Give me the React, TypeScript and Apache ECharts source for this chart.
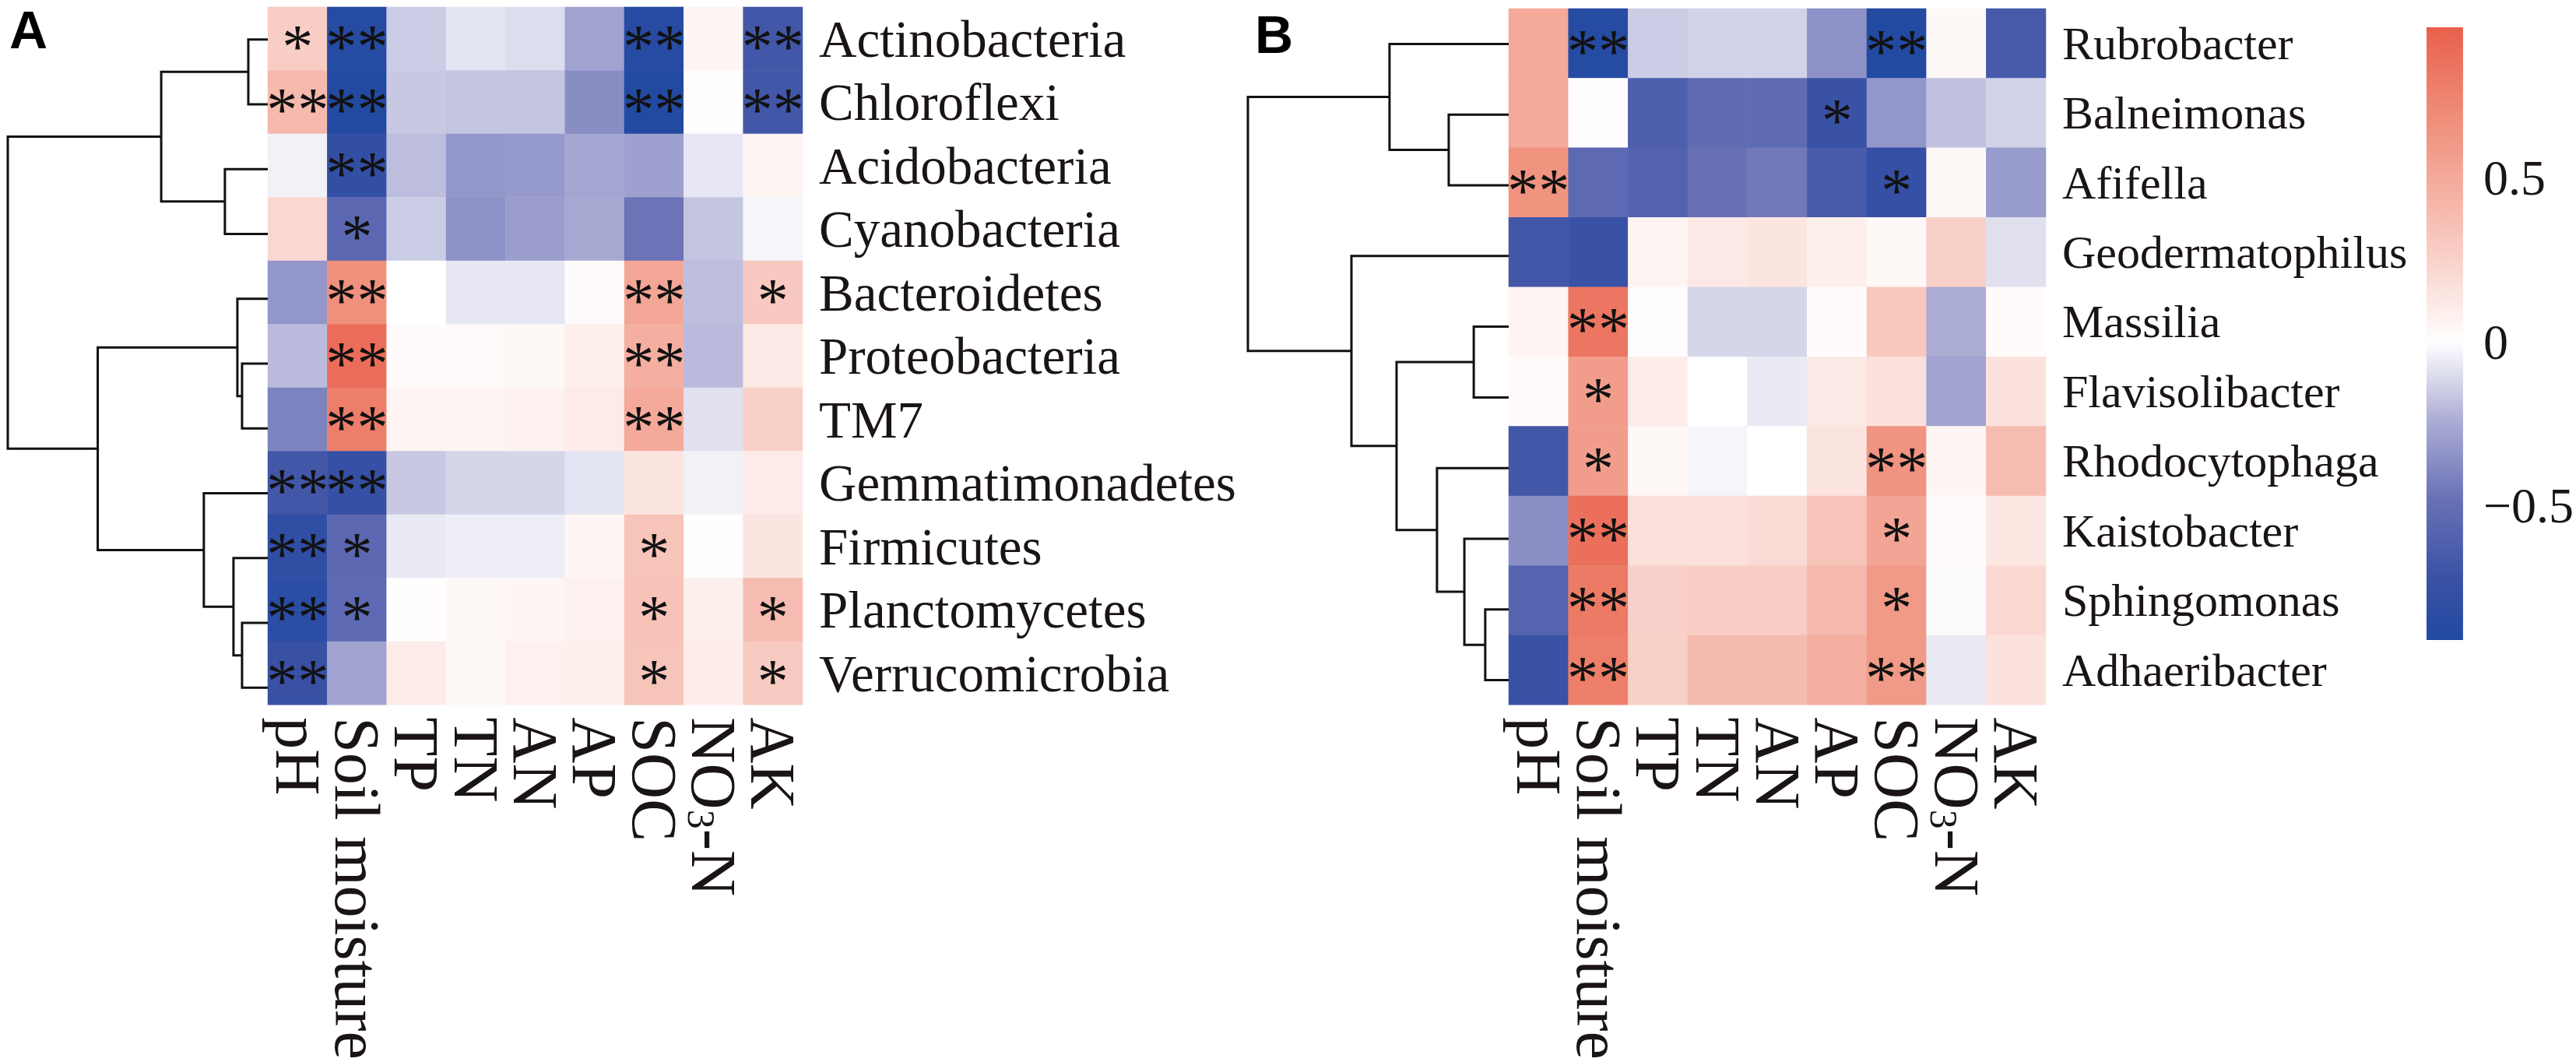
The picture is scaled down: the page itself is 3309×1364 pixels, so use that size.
import React, { useEffect, useRef } from 'react';
import * as echarts from 'echarts';

// ---------- data ----------
const columns = ['pH', 'Soil moisture', 'TP', 'TN', 'AN', 'AP', 'SOC', 'NO3-N', 'AK'];

const phylaA = [
  'Actinobacteria', 'Chloroflexi', 'Acidobacteria', 'Cyanobacteria', 'Bacteroidetes',
  'Proteobacteria', 'TM7', 'Gemmatimonadetes', 'Firmicutes', 'Planctomycetes', 'Verrucomicrobia',
];

// r values, order of columns
const valuesA = [
  [0.28, -0.88, -0.15, -0.08, -0.10, -0.28, -0.87, 0.05, -0.68],
  [0.40, -0.90, -0.16, -0.17, -0.17, -0.37, -0.90, 0.01, -0.68],
  [-0.04, -0.78, -0.19, -0.33, -0.32, -0.27, -0.29, -0.07, 0.06],
  [0.22, -0.55, -0.15, -0.35, -0.30, -0.26, -0.47, -0.17, -0.03],
  [-0.33, 0.66, 0.00, -0.07, -0.07, 0.02, 0.52, -0.19, 0.30],
  [-0.20, 0.88, 0.02, 0.03, 0.04, 0.09, 0.46, -0.20, 0.12],
  [-0.41, 0.78, 0.06, 0.06, 0.07, 0.11, 0.50, -0.09, 0.26],
  [-0.68, -0.76, -0.16, -0.12, -0.12, -0.08, 0.14, -0.04, 0.11],
  [-0.80, -0.55, -0.06, -0.05, -0.05, 0.05, 0.33, 0.01, 0.14],
  [-0.84, -0.54, 0.01, 0.04, 0.05, 0.07, 0.34, 0.09, 0.38],
  [-0.74, -0.28, 0.11, 0.04, 0.08, 0.09, 0.33, 0.10, 0.29],
];

const sigA = [
  ['*', '**', '', '', '', '', '**', '', '**'],
  ['**', '**', '', '', '', '', '**', '', '**'],
  ['', '**', '', '', '', '', '', '', ''],
  ['', '*', '', '', '', '', '', '', ''],
  ['', '**', '', '', '', '', '**', '', '*'],
  ['', '**', '', '', '', '', '**', '', ''],
  ['', '**', '', '', '', '', '**', '', ''],
  ['**', '**', '', '', '', '', '', '', ''],
  ['**', '*', '', '', '', '', '*', '', ''],
  ['**', '*', '', '', '', '', '*', '', '*'],
  ['**', '', '', '', '', '', '*', '', '*'],
];

const generaB = [
  'Rubrobacter', 'Balneimonas', 'Afifella', 'Geodermatophilus', 'Massilia',
  'Flavisolibacter', 'Rhodocytophaga', 'Kaistobacter', 'Sphingomonas', 'Adhaeribacter',
];

const valuesB = [
  [0.50, -0.88, -0.15, -0.13, -0.13, -0.35, -0.90, 0.04, -0.66],
  [0.50, 0.01, -0.62, -0.53, -0.53, -0.73, -0.33, -0.18, -0.13],
  [0.65, -0.54, -0.60, -0.49, -0.45, -0.65, -0.76, 0.04, -0.31],
  [-0.68, -0.72, 0.06, 0.12, 0.14, 0.09, 0.04, 0.26, -0.09],
  [0.06, 0.83, 0.01, -0.12, -0.12, 0.02, 0.31, -0.24, 0.02],
  [0.02, 0.58, 0.10, 0.00, -0.06, 0.12, 0.17, -0.28, 0.16],
  [-0.68, 0.58, 0.04, -0.03, 0.00, 0.15, 0.64, 0.05, 0.38],
  [-0.36, 0.87, 0.17, 0.17, 0.19, 0.33, 0.53, 0.02, 0.13],
  [-0.58, 0.80, 0.25, 0.28, 0.28, 0.40, 0.60, -0.01, 0.21],
  [-0.72, 0.78, 0.26, 0.39, 0.39, 0.46, 0.60, -0.06, 0.16],
];

const sigB = [
  ['', '**', '', '', '', '', '**', '', ''],
  ['', '', '', '', '', '*', '', '', ''],
  ['**', '', '', '', '', '', '*', '', ''],
  ['', '', '', '', '', '', '', '', ''],
  ['', '**', '', '', '', '', '', '', ''],
  ['', '*', '', '', '', '', '', '', ''],
  ['', '*', '', '', '', '', '**', '', ''],
  ['', '**', '', '', '', '', '*', '', ''],
  ['', '**', '', '', '', '', '*', '', ''],
  ['', '**', '', '', '', '', '**', '', ''],
];

// hclust-style merges: negative = leaf (row -k-1), positive = earlier merge (1-based); third = height
const mergesA = [
  [-1, -2, 0.075],
  [-3, -4, 0.165],
  [1, 2, 0.41],
  [-6, -7, 0.099],
  [-5, 4, 0.117],
  [-10, -11, 0.099],
  [-9, 6, 0.132],
  [-8, 7, 0.246],
  [5, 8, 0.654],
  [3, 9, 1.0],
];

const mergesB = [
  [-2, -3, 0.23],
  [-1, 1, 0.457],
  [-5, -6, 0.134],
  [-9, -10, 0.09],
  [-8, 4, 0.17],
  [-7, 5, 0.275],
  [3, 6, 0.43],
  [-4, 7, 0.603],
  [2, 8, 1.0],
];

const paletteColors = [
  '#1C47A0', '#3A52A5', '#6971B6', '#ACADD5', '#FFFFFF',
  '#F9D3CC', '#F4AC9D', '#EE8873', '#E9604C',
];
const paletteMin = -0.96;
const paletteMax = 0.96;
const colorbarMin = -0.91;
const colorbarMax = 0.96;
const colorbarTicks = [-0.5, 0, 0.5];

// ---------- helpers ----------
const SERIF = '"Times New Roman", "Liberation Serif", serif';
const TEXT = '#1a1414';

function hexToRgb(h: string) {
  const n = parseInt(h.slice(1), 16);
  return [(n >> 16) & 255, (n >> 8) & 255, n & 255];
}
function paletteAt(v: number) {
  const n = paletteColors.length;
  const t = Math.max(0, Math.min(1, (v - paletteMin) / (paletteMax - paletteMin))) * (n - 1);
  const i = Math.min(n - 2, Math.floor(t));
  const f = t - i;
  const a = hexToRgb(paletteColors[i]);
  const b = hexToRgb(paletteColors[i + 1]);
  const c = a.map((x, k) => Math.round(x + (b[k] - x) * f));
  return `rgb(${c[0]},${c[1]},${c[2]})`;
}
function colorbarStops() {
  const n = paletteColors.length;
  const vals: number[] = [colorbarMax];
  for (let k = n - 1; k >= 0; k--) {
    const v = paletteMin + (k * (paletteMax - paletteMin)) / (n - 1);
    if (v < colorbarMax && v > colorbarMin) vals.push(v);
  }
  vals.push(colorbarMin);
  return vals.map((v) => ({
    offset: (colorbarMax - v) / (colorbarMax - colorbarMin),
    color: paletteAt(v),
  }));
}

function dendroSegments(merges: number[][]) {
  const nodeY: number[] = [];
  const nodeH: number[] = [];
  const pos = (ref: number) =>
    ref < 0 ? { y: -ref - 1, h: 0 } : { y: nodeY[ref - 1], h: nodeH[ref - 1] };
  return merges.map(([a, b, h]) => {
    const pa = pos(a);
    const pb = pos(b);
    nodeY.push((pa.y + pb.y) / 2);
    nodeH.push(h);
    return [pa.h, pa.y, h, pb.h, pb.y];
  });
}

function heatData(values: number[][], sig: string[][]) {
  const out: any[] = [];
  values.forEach((row, r) =>
    row.forEach((v, c) => out.push([c, r, v, sig[r][c]]))
  );
  return out;
}

const renderDendro = (_p: any, api: any) => {
  const p1 = api.coord([api.value(0), api.value(1)]);
  const p2 = api.coord([api.value(2), api.value(1)]);
  const p3 = api.coord([api.value(2), api.value(4)]);
  const p4 = api.coord([api.value(3), api.value(4)]);
  return {
    type: 'polyline',
    shape: { points: [p1, p2, p3, p4] },
    style: { stroke: '#111', lineWidth: 3, fill: null },
  };
};

const renderColorbar = (_p: any, api: any) => {
  const tl = api.coord([api.value(0), api.value(3)]);
  const br = api.coord([api.value(2), api.value(1)]);
  return {
    type: 'rect',
    shape: { x: tl[0], y: tl[1], width: br[0] - tl[0], height: br[1] - tl[1] },
    style: { fill: new echarts.graphic.LinearGradient(0, 0, 0, 1, colorbarStops()) },
  };
};

const colLabel = {
  rotate: -90,
  fontSize: 82,
  fontFamily: SERIF,
  color: TEXT,
  margin: 16,
  interval: 0,
  formatter: (v: string) => (v === 'NO3-N' ? 'NO{s|3}-N' : v),
  rich: {
    s: { fontSize: 50, fontFamily: SERIF, color: TEXT, verticalAlign: 'bottom' },
  },
};

const rowLabel = (size: number) => ({
  fontSize: size,
  fontFamily: SERIF,
  color: TEXT,
  margin: 21,
  interval: 0,
});

const hidden = { show: false };

export default function App() {
  const ref = useRef<HTMLDivElement>(null);
  useEffect(() => {
    if (!ref.current) return;
    const chart = echarts.init(ref.current, undefined, { renderer: 'svg' });
    const cellLabel = {
      show: true,
      formatter: (p: any) => p.data[3],
      fontSize: 80,
      fontFamily: SERIF,
      color: '#111',
      offset: [0, 10],
    };
    const option: any = {
      animation: false,
      backgroundColor: '#ffffff',
      grid: [
        { left: 344, top: 9, width: 687, height: 916 },
        { left: 10, top: 9, width: 334, height: 916 },
        { left: 1938, top: 11, width: 690, height: 908 },
        { left: 1603, top: 11, width: 335, height: 908 },
        { left: 3117, top: 35, width: 61, height: 787 },
      ],
      xAxis: [
        { type: 'category', gridIndex: 0, data: columns, axisLine: hidden, axisTick: hidden, splitLine: hidden, axisLabel: colLabel },
        { type: 'value', gridIndex: 1, min: 0, max: 1, inverse: true, show: false },
        { type: 'category', gridIndex: 2, data: columns, axisLine: hidden, axisTick: hidden, splitLine: hidden, axisLabel: colLabel },
        { type: 'value', gridIndex: 3, min: 0, max: 1, inverse: true, show: false },
        { type: 'value', gridIndex: 4, min: 0, max: 1, show: false },
      ],
      yAxis: [
        { type: 'category', gridIndex: 0, data: phylaA, inverse: true, position: 'right', axisLine: hidden, axisTick: hidden, splitLine: hidden, axisLabel: rowLabel(67) },
        { type: 'value', gridIndex: 1, min: -0.5, max: phylaA.length - 0.5, inverse: true, show: false },
        { type: 'category', gridIndex: 2, data: generaB, inverse: true, position: 'right', axisLine: hidden, axisTick: hidden, splitLine: hidden, axisLabel: rowLabel(60) },
        { type: 'value', gridIndex: 3, min: -0.5, max: generaB.length - 0.5, inverse: true, show: false },
        {
          type: 'value', gridIndex: 4, min: colorbarMin, max: colorbarMax, position: 'right',
          axisLine: hidden, axisTick: hidden, splitLine: hidden,
          axisLabel: {
            customValues: colorbarTicks,
            formatter: (v: number) => (v < 0 ? '\u2212' + Math.abs(v) : String(v)),
            fontSize: 64, fontFamily: SERIF, color: TEXT, margin: 26,
          },
        },
      ],
      visualMap: {
        type: 'continuous',
        show: false,
        min: paletteMin,
        max: paletteMax,
        dimension: 2,
        seriesIndex: [0, 2],
        inRange: { color: paletteColors },
      },
      graphic: [
        { type: 'text', left: 12, top: 4, style: { text: 'A', font: 'bold 68px "Liberation Sans", Arial, sans-serif', fill: '#000' } },
        { type: 'text', left: 1612, top: 10, style: { text: 'B', font: 'bold 68px "Liberation Sans", Arial, sans-serif', fill: '#000' } },
      ],
      series: [
        {
          type: 'heatmap', xAxisIndex: 0, yAxisIndex: 0,
          data: heatData(valuesA, sigA), label: cellLabel,
          emphasis: { disabled: true },
        },
        {
          type: 'custom', xAxisIndex: 1, yAxisIndex: 1,
          data: dendroSegments(mergesA), renderItem: renderDendro,
          encode: { x: [0, 2, 3], y: [1, 4] }, silent: true,
        },
        {
          type: 'heatmap', xAxisIndex: 2, yAxisIndex: 2,
          data: heatData(valuesB, sigB), label: cellLabel,
          emphasis: { disabled: true },
        },
        {
          type: 'custom', xAxisIndex: 3, yAxisIndex: 3,
          data: dendroSegments(mergesB), renderItem: renderDendro,
          encode: { x: [0, 2, 3], y: [1, 4] }, silent: true,
        },
        {
          type: 'custom', xAxisIndex: 4, yAxisIndex: 4,
          data: [[0, colorbarMin, 1, colorbarMax]], renderItem: renderColorbar,
          encode: { x: [0, 2], y: [1, 3] }, silent: true,
        },
      ],
    };
    chart.setOption(option);
    return () => chart.dispose();
  }, []);
  return (
    <div
      ref={ref}
      style={{ position: 'fixed', left: 0, top: 0, width: 3309, height: 1364, background: '#fff' }}
    />
  );
}
